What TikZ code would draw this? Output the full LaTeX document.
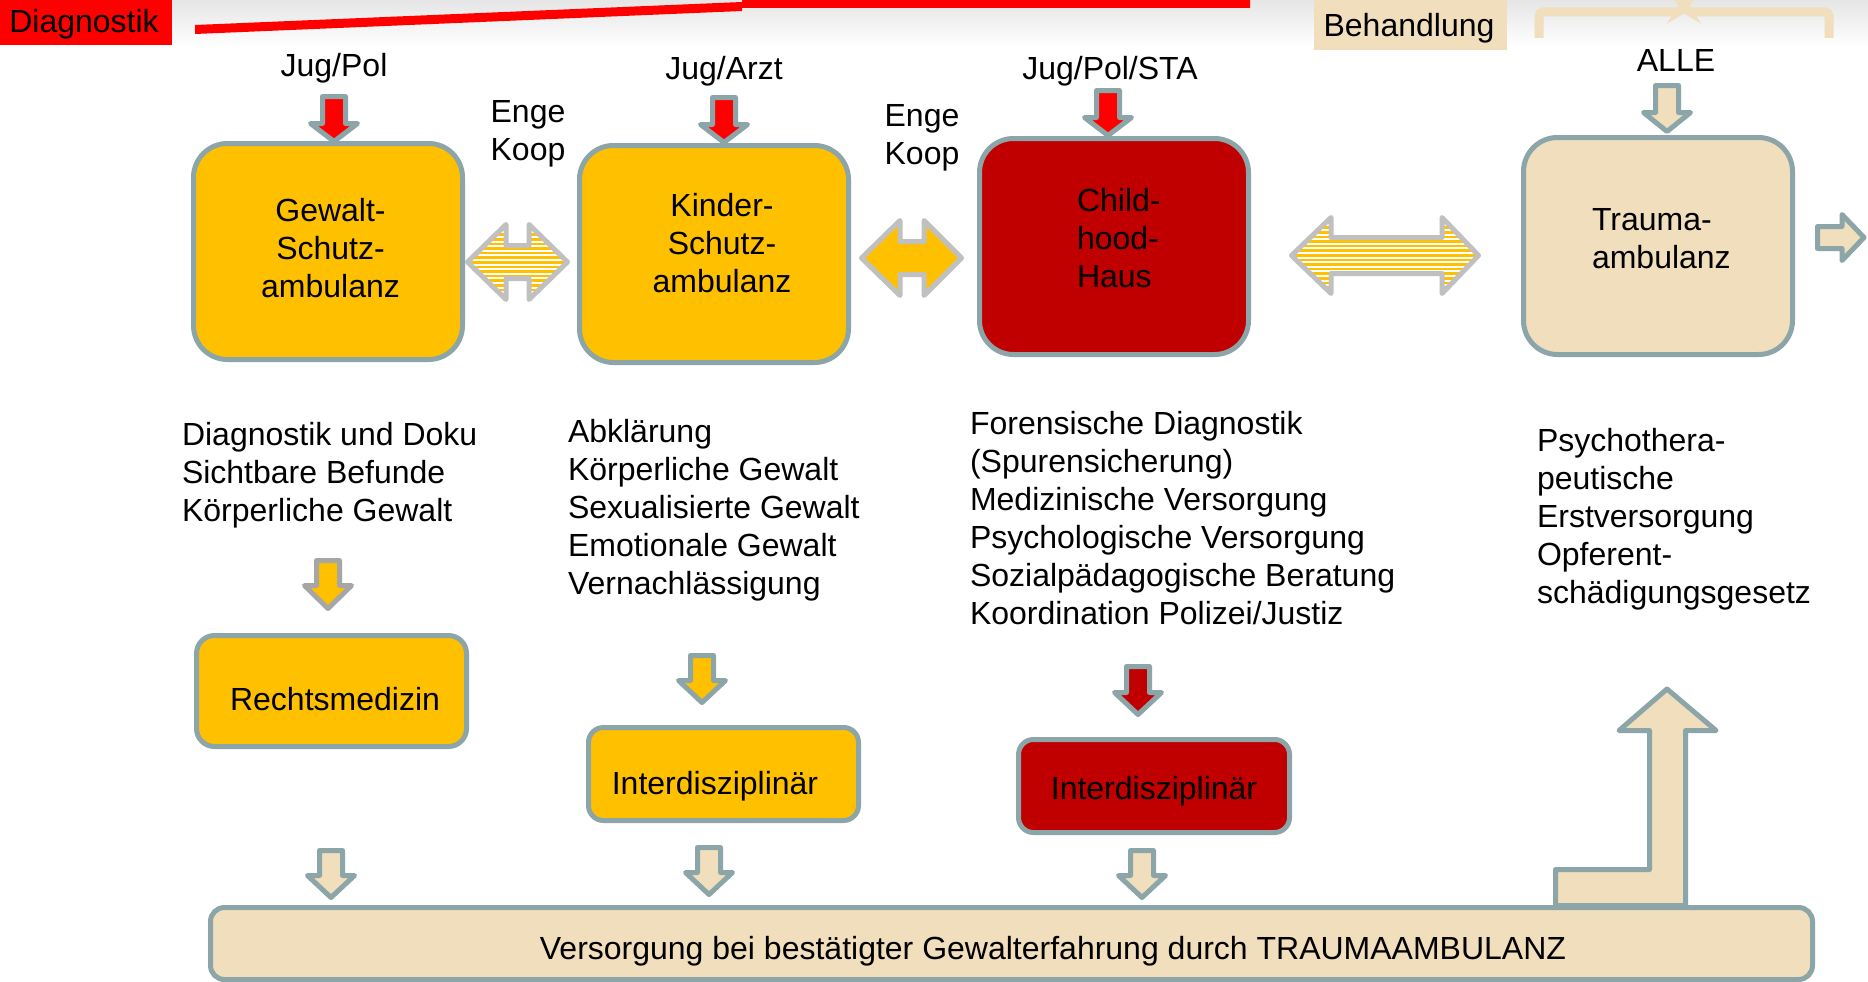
\documentclass[tikz,border=0pt]{standalone}
\usepackage{fontspec}
\setmainfont{Liberation Sans}
\usetikzlibrary{calc}
\definecolor{cyel}{HTML}{FFC000}
\definecolor{cdred}{HTML}{C00000}
\definecolor{cred}{HTML}{FF0000}
\definecolor{cbeige}{HTML}{F0DEBC}
\definecolor{cteal}{HTML}{8CA5A8}
\definecolor{cltgray}{HTML}{C0C0C0}
\definecolor{cmgray}{HTML}{A6A6A6}
\tikzset{
 every node/.style={font=\fontsize{32}{38}\selectfont, inner sep=0pt, outer sep=0pt, text=black},
 bx/.style={draw=cteal, line width=5pt, rounded corners=#1},
 bx/.default=34pt,
 blockarrow/.style={line width=5pt, line join=round},
 dblline/.style={draw=cltgray, line width=5pt, line join=round},
}
% down block arrow: #1 tip coordinate, #2 fill, #3 border, #4 outer length, #5 outer head length
\newcommand{\dnarrow}[5]{%
 \begin{scope}[shift={(#1)}]
 \draw[blockarrow, fill=#2, draw=#3] (0,-2.5) -- (-23.5,{-(#5-2.5)}) -- (-11.5,{-(#5-2.5)}) -- (-11.5,{-(#4-2.5)}) -- (11.5,{-(#4-2.5)}) -- (11.5,{-(#5-2.5)}) -- (23.5,{-(#5-2.5)}) -- cycle;
 \end{scope}}
% double arrow: #1 left tip, #2 right tip, #3 yc, #4 left base, #5 right base, #6 head half, #7 shaft half
\newcommand{\stripedarrow}[7]{%
 \fill[white] ({#1},{#3}) -- ({#4},{#3-#6}) -- ({#4},{#3-#7}) -- ({#5},{#3-#7}) -- ({#5},{#3-#6}) -- ({#2},{#3}) -- ({#5},{#3+#6}) -- ({#5},{#3+#7}) -- ({#4},{#3+#7}) -- ({#4},{#3+#6}) -- cycle;
 \begin{scope}
 \clip ({#1},{#3}) -- ({#4},{#3-#6}) -- ({#4},{#3-#7}) -- ({#5},{#3-#7}) -- ({#5},{#3-#6}) -- ({#2},{#3}) -- ({#5},{#3+#6}) -- ({#5},{#3+#7}) -- ({#4},{#3+#7}) -- ({#4},{#3+#6}) -- cycle;
 \foreach \k in {0,...,19} {\draw[cyel, line width=2.6pt] ({#1-5},{#3-#6+1+\k*4.6}) -- ({#2+5},{#3-#6+1+\k*4.6});}
 \end{scope}
 \draw[dblline] ({#1},{#3}) -- ({#4},{#3-#6}) -- ({#4},{#3-#7}) -- ({#5},{#3-#7}) -- ({#5},{#3-#6}) -- ({#2},{#3}) -- ({#5},{#3+#6}) -- ({#5},{#3+#7}) -- ({#4},{#3+#7}) -- ({#4},{#3+#6}) -- cycle;}
\newcommand{\solidarrow}[7]{%
 \draw[dblline, fill=cyel] ({#1},{#3}) -- ({#4},{#3-#6}) -- ({#4},{#3-#7}) -- ({#5},{#3-#7}) -- ({#5},{#3-#6}) -- ({#2},{#3}) -- ({#5},{#3+#6}) -- ({#5},{#3+#7}) -- ({#4},{#3+#7}) -- ({#4},{#3+#6}) -- cycle;}
\begin{document}
\begin{tikzpicture}[x=1pt,y=-1pt]
\useasboundingbox (0,0) rectangle (1868,982);
\fill[white] (0,0) rectangle (1868,982);
\shade[top color=black!10, bottom color=white] (172,0) rectangle (1868,46);
% header
\node[fill=cred, minimum width=172pt, minimum height=45pt, anchor=north west] (diag) at (0,0) {};
\node[anchor=base] (diagt) at (84,33) {Diagnostik};
\fill[cred] (195,25) -- (742,2) -- (742,0) -- (1250,0) -- (1250,8) -- (742,8) -- (742,11) -- (195,34) -- cycle;
\node[fill=cbeige, minimum width=193pt, minimum height=50pt, anchor=north west] (beh) at (1314,0) {};
\node[anchor=base] (beht) at (1409,36.5) {Behandlung};
\draw[cbeige, line width=9pt, rounded corners=4pt] (1539,38) -- (1539,12) -- (1680,12) -- (1684,6) -- (1688,12) -- (1829,12) -- (1829,38);

% top labels
\node[anchor=base] (l1) at (334,77) {Jug/Pol};
\node[anchor=base] (l2) at (724,79.5) {Jug/Arzt};
\node[anchor=base] (l3) at (1110,79.5) {Jug/Pol/STA};
\node[anchor=base] (l4) at (1676,71) {ALLE};
\node[anchor=base, align=center] (k1) at (528,160.5) {Enge\\Koop};
\node[anchor=base, align=center] (k2) at (922,164) {Enge\\Koop};

% main boxes
\node[bx, fill=cyel, minimum width=269pt, minimum height=216pt] (gsa) at (328,251.5) {};
\node[bx, fill=cyel, minimum width=269pt, minimum height=217pt] (ksa) at (714,254) {};
\node[bx, fill=cdred, minimum width=269pt, minimum height=216pt] (chh) at (1114,246.5) {};
\node[bx, fill=cbeige, minimum width=269pt, minimum height=217pt] (tra) at (1658,246) {};
\node[align=center] (gsat) at (330.5,248) {Gewalt-\\Schutz-\\ambulanz};
\node[align=center] (ksat) at (722,243) {Kinder-\\Schutz-\\ambulanz};
\node[align=left, anchor=west] (chht) at (1077,238) {Child-\\hood-\\Haus};
\node[align=left, anchor=west] (trat) at (1592,239) {Trauma-\\ambulanz};

% arrows into main boxes
\coordinate (r1) at (334,144);
\coordinate (r2) at (724,145);
\coordinate (r3) at (1108,138);
\coordinate (r4) at (1667,134);
\dnarrow{r1}{cred}{cteal}{50}{23}
\dnarrow{r2}{cred}{cteal}{50}{23}
\dnarrow{r3}{cred}{cteal}{50}{23}
\dnarrow{r4}{cbeige}{cteal}{51}{24}

% double arrows between boxes
\stripedarrow{467.5}{567.5}{262}{506}{529}{37.5}{16.5}
\solidarrow{861.5}{961.5}{258}{900}{924}{37.5}{16.5}
\stripedarrow{1291.5}{1478.5}{255.5}{1331}{1442}{38}{18}
% arrow out of Trauma-ambulanz
\coordinate (tro) at (1817.5,237.5);
\draw[blockarrow, fill=cbeige, draw=cteal] (tro) -- ++(0,-11) -- (1842,226.5) -- (1842,214.5) -- (1864,237.5) -- (1842,260.5) -- (1842,248.5) -- (1817.5,248.5) -- cycle;

% description blocks
\node[anchor=north west, align=left] (d1) at (182,422) {Diagnostik und Doku\\Sichtbare Befunde\\Körperliche Gewalt};
\node[anchor=north west, align=left] (d2) at (568,419) {Abklärung\\Körperliche Gewalt\\Sexualisierte Gewalt\\Emotionale Gewalt\\Vernachlässigung};
\node[anchor=north west, align=left] (d3) at (970,411) {Forensische Diagnostik\\(Spurensicherung)\\Medizinische Versorgung\\Psychologische Versorgung\\Sozialpädagogische Beratung\\Koordination Polizei/Justiz};
\node[anchor=north west, align=left] (d4) at (1537,428) {Psychothera-\\peutische\\Erstversorgung\\Opferent-\\schädigungsgesetz};

% second row boxes
\node[bx=18pt, fill=cyel, minimum width=270pt, minimum height=111pt] (rm) at (331.5,691) {};
\node[anchor=base] (rmt) at (335,710.5) {Rechtsmedizin};
\node[bx=15pt, fill=cyel, minimum width=270pt, minimum height=93pt] (idy) at (723.5,774) {};
\node[anchor=base] (idyt) at (715,794) {Interdisziplinär};
\node[bx=15pt, fill=cdred, minimum width=271pt, minimum height=93pt] (idr) at (1154,786) {};
\node[anchor=base] (idrt) at (1154,799) {Interdisziplinär};

\coordinate (s1) at (328,611);
\coordinate (s2) at (702,705);
\coordinate (s3) at (1138,717);
\dnarrow{s1}{cyel}{cmgray}{53}{28}
\dnarrow{s2}{cyel}{cteal}{52}{27}
\dnarrow{s3}{cdred}{cteal}{53}{27}

% bottom box
\node[bx=14pt, fill=cbeige, minimum width=1602pt, minimum height=72pt] (vers) at (1011.5,943.5) {};
\node[anchor=base] (verst) at (1053,959.5) {Versorgung bei bestätigter Gewalterfahrung durch TRAUMAAMBULANZ};

\coordinate (v1) at (331,900);
\coordinate (v2) at (709,897);
\coordinate (v3) at (1142,900);
\dnarrow{v1}{cbeige}{cteal}{52}{27}
\dnarrow{v2}{cbeige}{cteal}{52}{27}
\dnarrow{v3}{cbeige}{cteal}{52}{27}

% L-shaped arrow up to Trauma column
\coordinate (lup) at (1667,689);
\draw[blockarrow, fill=cbeige, draw=cteal] (1555.5,905.5) -- (1555.5,869.5) -- (1649.5,869.5) -- (1649.5,730.5) -- (1619,730.5) -- (lup) -- (1716,730.5) -- (1685.5,730.5) -- (1685.5,905.5) -- cycle;
\end{tikzpicture}
\end{document}
